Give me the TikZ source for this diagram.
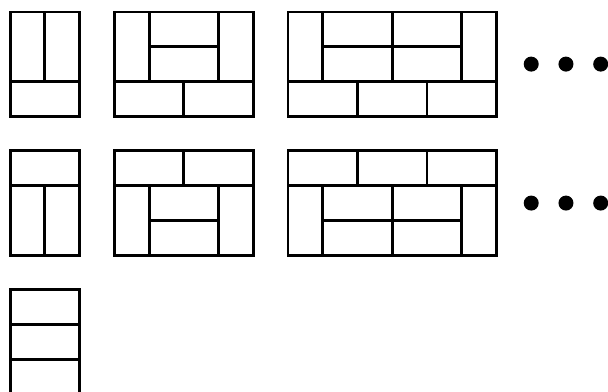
\documentclass[tikz,border=0pt]{standalone}
\usepackage{tikz}

\begin{document}
\begin{tikzpicture}[x=1cm, y=-1cm]
\tikzset{tile/.style={draw, line width=2.4pt}, gapdot/.style={fill=black}}
\useasboundingbox (0,0) rectangle (17.5,11.28);
% first row: vertical pair on top, flat row below
\begin{scope}[shift={(0.29,0.345)}]
  \draw[tile] (0,0) rectangle (1,2);
  \draw[tile] (1,0) rectangle (2,2);
  \draw[tile] (0,2) rectangle (2,3);
\end{scope}
\begin{scope}[shift={(3.29,0.345)}]
  \draw[tile] (0,0) rectangle (1,2);
  \draw[tile] (1,0) rectangle (3,1);
  \draw[tile] (1,1) rectangle (3,2);
  \draw[tile] (3,0) rectangle (4,2);
  \foreach \i in {0,2}
    \draw[tile] (\i,2) rectangle ++(2,1);
\end{scope}
\begin{scope}[shift={(8.29,0.345)}]
  \draw[tile] (0,0) rectangle (1,2);
  \foreach \i in {1,3} {
    \draw[tile] (\i,0) rectangle ++(2,1);
    \draw[tile] (\i,1) rectangle ++(2,1);
  }
  \draw[tile] (5,0) rectangle (6,2);
  \foreach \i in {0,2,4}
    \draw[tile] (\i,2) rectangle ++(2,1);
\end{scope}
% second row: flat row on top
\begin{scope}[shift={(0.29,4.345)}]
  \draw[tile] (0,0) rectangle (2,1);
  \draw[tile] (0,1) rectangle (1,3);
  \draw[tile] (1,1) rectangle (2,3);
\end{scope}
\begin{scope}[shift={(3.29,4.345)}]
  \foreach \i in {0,2}
    \draw[tile] (\i,0) rectangle ++(2,1);
  \draw[tile] (0,1) rectangle (1,3);
  \draw[tile] (1,1) rectangle (3,2);
  \draw[tile] (1,2) rectangle (3,3);
  \draw[tile] (3,1) rectangle (4,3);
\end{scope}
\begin{scope}[shift={(8.29,4.345)}]
  \foreach \i in {0,2,4}
    \draw[tile] (\i,0) rectangle ++(2,1);
  \draw[tile] (0,1) rectangle (1,3);
  \foreach \i in {1,3} {
    \draw[tile] (\i,1) rectangle ++(2,1);
    \draw[tile] (\i,2) rectangle ++(2,1);
  }
  \draw[tile] (5,1) rectangle (6,3);
\end{scope}
% third row
\begin{scope}[shift={(0.29,8.345)}]
  \foreach \j in {0,1,2}
    \draw[tile] (0,\j) rectangle ++(2,1);
\end{scope}
% dots
\foreach \y in {1.845,5.845}
  \foreach \x in {15.29,16.29,17.29}
    \fill[gapdot] (\x,\y) circle (0.216cm);
\end{tikzpicture}
\end{document}
